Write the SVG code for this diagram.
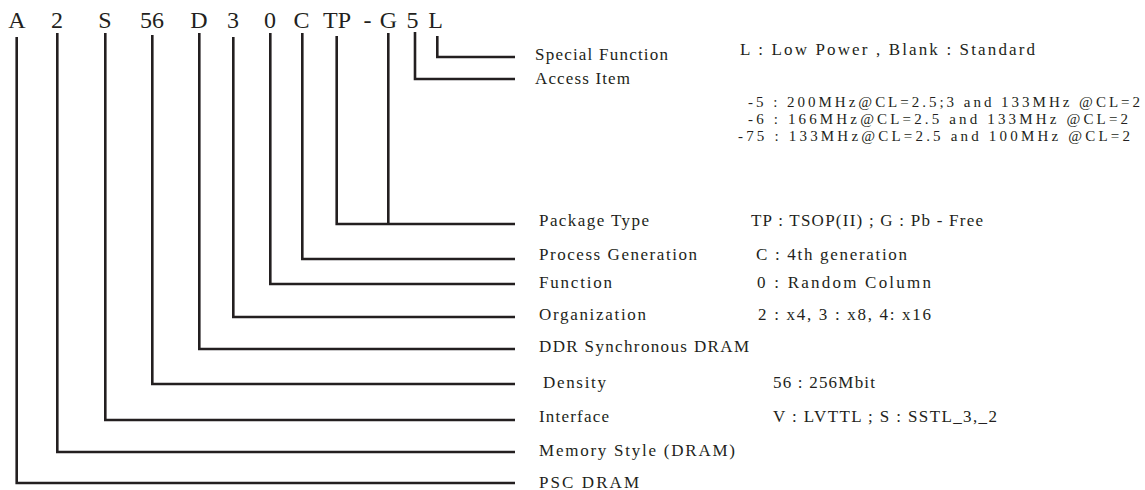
<svg xmlns="http://www.w3.org/2000/svg" width="1145" height="490" viewBox="0 0 1145 490">
<style>
.code{font-family:"Liberation Serif","Times New Roman",serif;font-size:24px;fill:#231f20}
.lbl{font-family:"Liberation Serif","Times New Roman",serif;font-size:17px;fill:#231f20}
.acc{font-family:"Liberation Serif","Times New Roman",serif;font-size:15px;fill:#231f20}
.ln{fill:none;stroke:#231f20;stroke-width:2.6;stroke-linejoin:miter;stroke-linecap:butt}
</style>
<rect width="1145" height="490" fill="#ffffff"/>
<g id="code">
<text class="code" x="17" y="28" text-anchor="middle">A</text>
<text class="code" x="57" y="28" text-anchor="middle">2</text>
<text class="code" x="105" y="28" text-anchor="middle">S</text>
<text class="code" x="152" y="28" text-anchor="middle">56</text>
<text class="code" x="199" y="28" text-anchor="middle">D</text>
<text class="code" x="233" y="28" text-anchor="middle">3</text>
<text class="code" x="270" y="28" text-anchor="middle">0</text>
<text class="code" x="301.5" y="28" text-anchor="middle">C</text>
<text class="code" x="337" y="28" text-anchor="middle">TP</text>
<text class="code" x="367.5" y="28" text-anchor="middle">-</text>
<text class="code" x="388.5" y="28" text-anchor="middle">G</text>
<text class="code" x="412.5" y="28" text-anchor="middle">5</text>
<text class="code" x="435.5" y="28" text-anchor="middle">L</text>
</g>
<g id="connectors">
<polyline class="ln" points="437.3,36 437.3,57 515,57"/>
<polyline class="ln" points="415,32 415,79 515,79"/>
<polyline class="ln" points="336.7,36 336.7,224 515,224"/>
<polyline class="ln" points="388.3,33 388.3,224"/>
<polyline class="ln" points="302.3,33 302.3,259 515,259"/>
<polyline class="ln" points="270.3,33 270.3,284 515,284"/>
<polyline class="ln" points="233.3,37 233.3,317 515,317"/>
<polyline class="ln" points="199.3,33 199.3,349 515,349"/>
<polyline class="ln" points="152.3,35 152.3,384 515,384"/>
<polyline class="ln" points="105.3,33 105.3,420 515,420"/>
<polyline class="ln" points="57.3,33 57.3,452 515,452"/>
<polyline class="ln" points="16.7,37 16.7,483 515,483"/>
</g>
<g id="special-function">
<text class="lbl" x="535" y="60" textLength="133" lengthAdjust="spacing">Special Function</text>
<text class="lbl" x="740" y="55" textLength="295" lengthAdjust="spacing">L :  Low Power , Blank : Standard</text>
</g>
<g id="access-item">
<text class="lbl" x="535" y="84" textLength="95" lengthAdjust="spacing">Access Item</text>
<text class="acc" x="748" y="107" textLength="392" lengthAdjust="spacing">-5 :  200MHz@CL=2.5;3 and 133MHz @CL=2</text>
<text class="acc" x="748" y="124" textLength="380" lengthAdjust="spacing">-6 :  166MHz@CL=2.5  and 133MHz @CL=2</text>
<text class="acc" x="738" y="141" textLength="392" lengthAdjust="spacing">-75 :  133MHz@CL=2.5  and 100MHz @CL=2</text>
</g>
<g id="package-type">
<text class="lbl" x="539" y="226" textLength="110" lengthAdjust="spacing">Package Type</text>
<text class="lbl" x="751" y="226" textLength="232" lengthAdjust="spacing">TP : TSOP(II) ;  G :  Pb - Free</text>
</g>
<g id="process-generation">
<text class="lbl" x="539" y="260" textLength="158" lengthAdjust="spacing">Process Generation</text>
<text class="lbl" x="756" y="260" textLength="151" lengthAdjust="spacing">C : 4th generation</text>
</g>
<g id="function">
<text class="lbl" x="539" y="288" textLength="73" lengthAdjust="spacing">Function</text>
<text class="lbl" x="757" y="288" textLength="174" lengthAdjust="spacing">0  : Random Column</text>
</g>
<g id="organization">
<text class="lbl" x="539" y="320" textLength="107" lengthAdjust="spacing">Organization</text>
<text class="lbl" x="758" y="320" textLength="173" lengthAdjust="spacing">2 : x4,  3 : x8,  4: x16</text>
</g>
<g id="ddr">
<text class="lbl" x="539" y="352" textLength="210" lengthAdjust="spacing">DDR Synchronous DRAM</text>
</g>
<g id="density">
<text class="lbl" x="543" y="388" textLength="63" lengthAdjust="spacing">Density</text>
<text class="lbl" x="773" y="388" textLength="102" lengthAdjust="spacing">56 : 256Mbit</text>
</g>
<g id="interface">
<text class="lbl" x="539" y="422" textLength="70" lengthAdjust="spacing">Interface</text>
<text class="lbl" x="773" y="422" textLength="224" lengthAdjust="spacing">V :  LVTTL ; S : SSTL_3,_2</text>
</g>
<g id="memory-style">
<text class="lbl" x="539" y="456" textLength="196" lengthAdjust="spacing">Memory Style (DRAM)</text>
</g>
<g id="psc">
<text class="lbl" x="539" y="488" textLength="100" lengthAdjust="spacing">PSC DRAM</text>
</g>
</svg>
